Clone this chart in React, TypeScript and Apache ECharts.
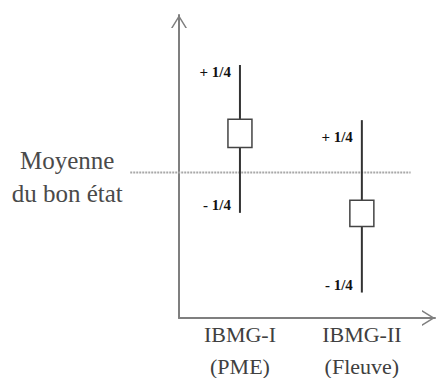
import React, { useEffect, useRef } from "react";
import * as echarts from "echarts";

// ---- data ----
const categories = ["IBMG-I\n(PME)", "IBMG-II\n(Fleuve)"];
const whiskerHigh = [83.5, 65.3];
const whiskerLow = [34.7, 8.4];
const boxHigh = [65.6, 38.9];
const boxLow = [56.3, 30.2];
const plusLabelAt = [81.3, 59.6];
const minusLabelAt = [37.3, 10.9];
const bandLabels = ["+ 1/4", "- 1/4"];
const meanValue = 48;
const meanLabel = "Moyenne\ndu bon état";
const meanExtent = [-0.4, 1.9];

const chevron = "path://M0,13 L8,0 L16,13 L14.3,13 L8,2.8 L1.7,13 Z";

export default function App() {
  const ref = useRef<HTMLDivElement>(null);
  useEffect(() => {
    if (!ref.current) return;
    const chart = echarts.init(ref.current, null, { renderer: "svg" });
    const boxData = categories.map((_, i) => [
      i + 0.5,
      whiskerLow[i],
      whiskerHigh[i],
      boxLow[i],
      boxHigh[i],
      plusLabelAt[i],
      minusLabelAt[i],
    ]);
    const axisLineStyle = { color: "#7f7f7f", width: 2 };
    chart.setOption({
      animation: false,
      backgroundColor: "#ffffff",
      grid: { left: 179, right: 2, top: 15, bottom: 60, containLabel: false, outerBoundsMode: "none" },
      xAxis: {
        type: "value",
        min: 0,
        max: 2.1,
        interval: 0.5,
        splitLine: { show: false },
        axisTick: { show: false },
        axisLine: {
          show: true,
          lineStyle: axisLineStyle,
          symbol: ["none", chevron],
          symbolSize: [16, 13],
          symbolOffset: [0, -6.5],
        },
        axisLabel: {
          margin: 0,
          color: "#404040",
          fontFamily: "Liberation Serif",
          fontSize: 22,
          lineHeight: 32,
          showMaxLabel: false,
          formatter: (v: number) => {
            const i = Math.round((v - 0.5) * 1000) / 1000;
            if (Number.isInteger(i) && categories[i] !== undefined) return categories[i];
            return "";
          },
        },
      },
      yAxis: {
        type: "value",
        min: 0,
        max: 100,
        splitLine: { show: false },
        axisTick: { show: false },
        axisLabel: { show: false },
        axisLine: {
          show: true,
          lineStyle: axisLineStyle,
          symbol: ["none", chevron],
          symbolSize: [16, 13],
          symbolOffset: [0, -6.5],
        },
      },
      series: [
        {
          type: "custom",
          clip: false,
          z: 1,
          data: [[meanExtent[0], meanExtent[1], meanValue]],
          renderItem: (params: any, api: any) => {
            const p1 = api.coord([api.value(0), api.value(2)]);
            const p2 = api.coord([api.value(1), api.value(2)]);
            return {
              type: "group",
              children: [
                {
                  type: "line",
                  shape: { x1: p1[0], y1: p1[1], x2: p2[0], y2: p2[1] },
                  style: { stroke: "#a8a8a8", lineWidth: 2, lineDash: [2, 1] },
                },
                {
                  type: "text",
                  x: p1[0] - 63,
                  y: p1[1] + 4,
                  style: {
                    text: meanLabel,
                    fill: "#4a4a4a",
                    fontFamily: "Liberation Serif",
                    fontSize: 25,
                    lineHeight: 33,
                    align: "center",
                    verticalAlign: "middle",
                  },
                },
              ],
            };
          },
        },
        {
          type: "custom",
          clip: false,
          z: 2,
          data: boxData,
          renderItem: (params: any, api: any) => {
            const x = api.value(0);
            const lo = api.coord([x, api.value(1)]);
            const hi = api.coord([x, api.value(2)]);
            const bLo = api.coord([x, api.value(3)]);
            const bHi = api.coord([x, api.value(4)]);
            const pl = api.coord([x, api.value(5)]);
            const ml = api.coord([x, api.value(6)]);
            const labelStyle = {
              fill: "#111",
              fontFamily: "Liberation Serif",
              fontWeight: "bold",
              fontSize: 15,
              align: "right",
              verticalAlign: "middle",
            };
            return {
              type: "group",
              children: [
                {
                  type: "line",
                  shape: { x1: lo[0], y1: lo[1], x2: hi[0], y2: hi[1] },
                  style: { stroke: "#333", lineWidth: 2 },
                },
                {
                  type: "rect",
                  shape: { x: bHi[0] - 12, y: bHi[1], width: 24, height: bLo[1] - bHi[1] },
                  style: { fill: "#fff", stroke: "#444", lineWidth: 1.5 },
                },
                {
                  type: "text",
                  x: pl[0] - 9,
                  y: pl[1],
                  style: { ...labelStyle, text: bandLabels[0] },
                },
                {
                  type: "text",
                  x: ml[0] - 9,
                  y: ml[1],
                  style: { ...labelStyle, text: bandLabels[1] },
                },
              ],
            };
          },
        },
      ],
    });
    return () => chart.dispose();
  }, []);
  return (
    <div
      ref={ref}
      style={{ position: "fixed", left: 0, top: 0, width: 437, height: 378 }}
    />
  );
}
